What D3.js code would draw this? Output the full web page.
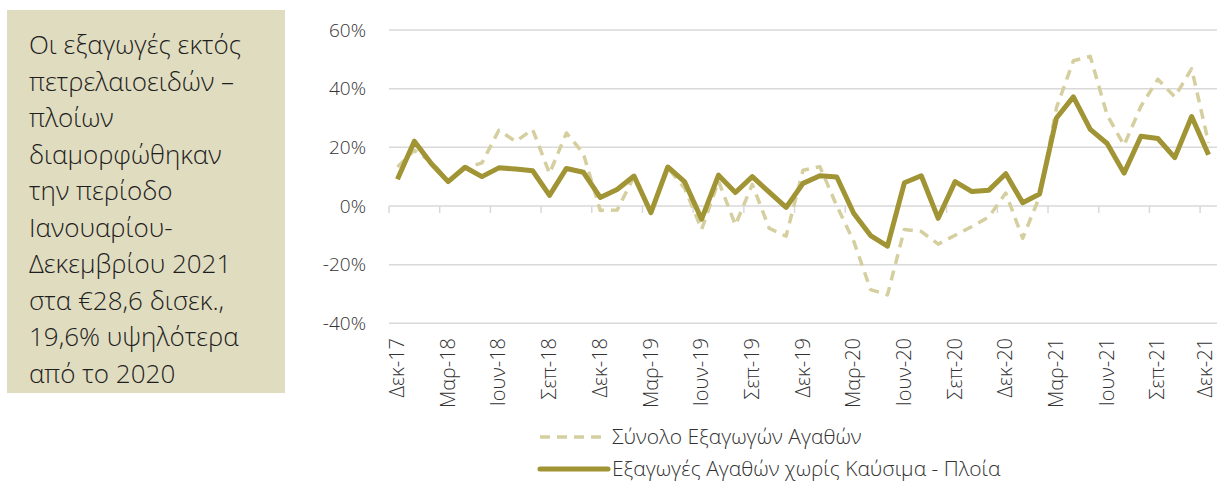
<!DOCTYPE html>
<html><head><meta charset="utf-8">
<script src="https://cdn.jsdelivr.net/npm/d3@7"></script>
<style>
body{margin:0;background:#fff;}
svg{display:block;font-family:"Open Sans",sans-serif;}
</style></head>
<body><svg id="c" width="1218" height="483"></svg>
<script>
const categories = ["Δεκ-17","Ιαν-18","Φεβ-18","Μαρ-18","Απρ-18","Μαι-18","Ιουν-18","Ιουλ-18","Αυγ-18","Σεπ-18","Οκτ-18","Νοε-18",
"Δεκ-18","Ιαν-19","Φεβ-19","Μαρ-19","Απρ-19","Μαι-19","Ιουν-19","Ιουλ-19","Αυγ-19","Σεπ-19","Οκτ-19","Νοε-19",
"Δεκ-19","Ιαν-20","Φεβ-20","Μαρ-20","Απρ-20","Μαι-20","Ιουν-20","Ιουλ-20","Αυγ-20","Σεπ-20","Οκτ-20","Νοε-20",
"Δεκ-20","Ιαν-21","Φεβ-21","Μαρ-21","Απρ-21","Μαι-21","Ιουν-21","Ιουλ-21","Αυγ-21","Σεπ-21","Οκτ-21","Νοε-21","Δεκ-21"];
const totalExports = [13.3,19,15,8.5,12.8,14.7,25.8,22,26.1,11.1,24.9,17.9,-1.5,-1.4,10,-2.5,13,6,-8,8.5,-6.5,7.4,-7.6,-10.3,12.2,13.4,0,-12,-28.5,-30.3,-8,-8.7,-13,-10,-7,-3.7,4.4,-11,3.2,33.5,49.5,51,31,20.7,34,43.2,37.2,46.8,21.5];
const exFuelShips = [9.1,22.1,14.5,8.3,13.2,10.0,13.0,12.6,12.0,3.6,12.8,11.5,2.9,5.6,10.2,-2.3,13.3,8.2,-4.5,10.5,4.6,10.0,4.7,-0.5,7.7,10.3,9.9,-2.5,-10.1,-13.7,7.9,10.3,-4.2,8.3,4.9,5.4,11.0,1.1,4.1,30.0,37.2,26.1,21.3,11.2,23.8,23.0,16.5,30.5,17.5];
const yTicks = [-40,-20,0,20,40,60];
const seriesNames = ["Σύνολο Εξαγωγών Αγαθών","Εξαγωγές Αγαθών χωρίς Καύσιμα - Πλοία"];
const boxLines = ["Οι εξαγωγές εκτός","πετρελαιοειδών –","πλοίων","διαμορφώθηκαν","την περίοδο","Ιανουαρίου-","Δεκεμβρίου 2021","στα €28,6 δισεκ.,","19,6% υψηλότερα","από το 2020"];

const svg = d3.select("#c");
const dashedColor = "#d5cf9f", solidColor = "#a09434", textColor = "#333333";

// text box
svg.append("rect").attr("x",7).attr("y",10).attr("width",278).attr("height",383).attr("fill","#e0dcc0");
svg.append("g").selectAll("text").data(boxLines).join("text")
  .attr("x",29).attr("y",(d,i)=>54+i*36.5)
  .attr("font-size",26).attr("font-weight",300).attr("fill","#1e1e1e").text(d=>d);

const x = d3.scaleBand().domain(categories).range([389,1217]).padding(0);
const y = d3.scaleLinear().domain([-40,60]).range([323.3,30]);
const cx = d => x(d)+x.bandwidth()/2;

// gridlines
svg.append("g").selectAll("line").data(yTicks).join("line")
  .attr("x1",389).attr("x2",1217).attr("y1",d=>y(d)).attr("y2",d=>y(d))
  .attr("stroke","#d9d9d9").attr("stroke-width",1.5);

// y labels
const yAxis = svg.append("g").attr("transform","translate(389,0)")
  .call(d3.axisLeft(y).tickValues(yTicks).tickSize(0).tickPadding(23).tickFormat(d=>d+"%"));
yAxis.select(".domain").remove();
yAxis.selectAll("text").attr("font-size",19).attr("fill",textColor).attr("font-family","'Open Sans',sans-serif").attr("font-weight",300);

// x ticks at category boundaries on zero line
const tickIdx = d3.range(0,49,3);
svg.append("g").selectAll("line").data(tickIdx).join("line")
  .attr("x1",i=>x(categories[i])).attr("x2",i=>x(categories[i]))
  .attr("y1",y(0)).attr("y2",y(0)+7).attr("stroke","#d9d9d9").attr("stroke-width",1.5);

// x labels
const lastCat = categories[categories.length-1];
const xAxis = svg.append("g").attr("transform","translate(0,332)")
  .call(d3.axisBottom(x).tickValues(tickIdx.map(i=>categories[i])).tickSize(0).tickPadding(0));
xAxis.select(".domain").remove();
xAxis.selectAll("text").attr("font-size",20).attr("fill",textColor).attr("font-family","'Open Sans',sans-serif").attr("font-weight",300)
  .attr("transform","rotate(-90)").attr("text-anchor","end").attr("x",-6).attr("y",0)
  .attr("dy",d=>d===lastCat?"0.16em":"0.33em");

// lines
const line = d3.line().x((d,i)=>cx(categories[i])).y(d=>y(d));
svg.append("path").datum(totalExports).attr("d",line).attr("fill","none")
  .attr("stroke",dashedColor).attr("stroke-width",3.5).attr("stroke-dasharray","10,7").attr("stroke-linejoin","round");
svg.append("path").datum(exFuelShips).attr("d",line).attr("fill","none")
  .attr("stroke",solidColor).attr("stroke-width",5).attr("stroke-linejoin","round");

// legend
const leg = svg.append("g");
const legY = [437,469];
leg.append("line").attr("x1",540).attr("x2",608).attr("y1",legY[0]).attr("y2",legY[0])
  .attr("stroke",dashedColor).attr("stroke-width",3.5).attr("stroke-dasharray","10,7");
leg.append("line").attr("x1",540).attr("x2",608).attr("y1",legY[1]).attr("y2",legY[1])
  .attr("stroke",solidColor).attr("stroke-width",5).attr("stroke-linecap","round");
leg.selectAll("text").data(seriesNames).join("text")
  .attr("x",612).attr("y",(d,i)=>legY[i]).attr("dy","0.35em")
  .attr("font-size",21).attr("font-weight",300).attr("fill",textColor).text(d=>d);
</script></body></html>
